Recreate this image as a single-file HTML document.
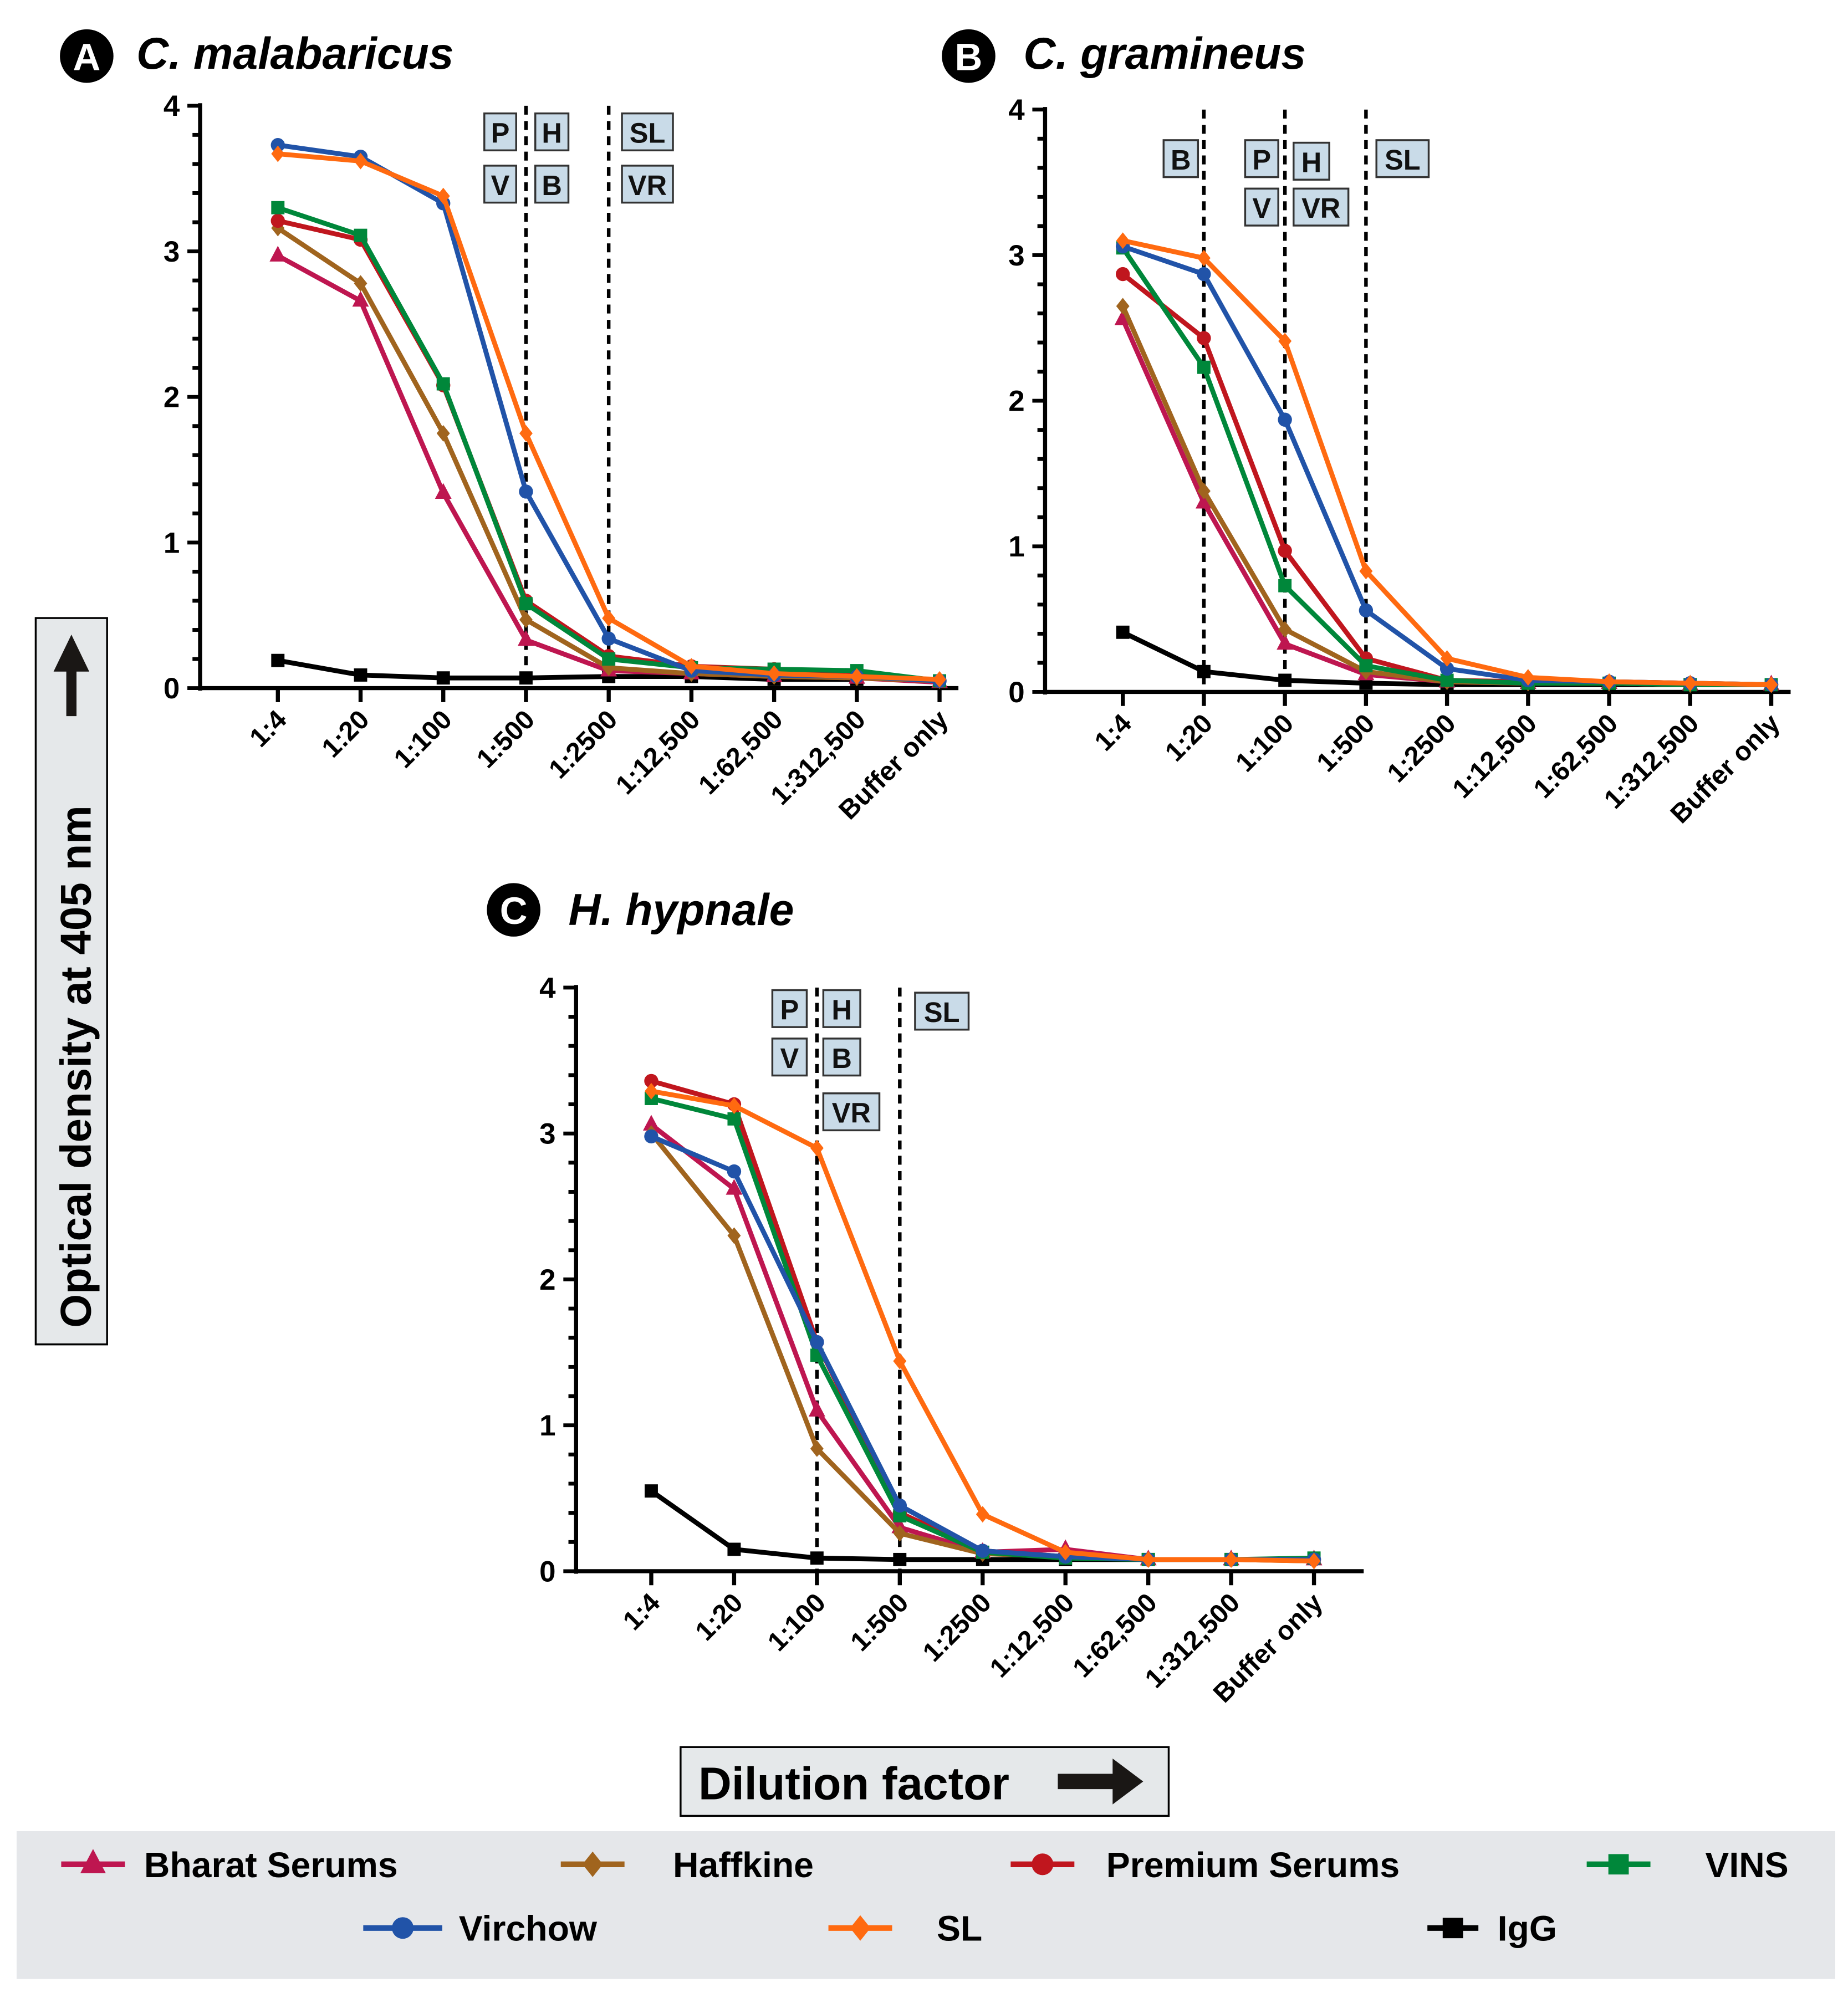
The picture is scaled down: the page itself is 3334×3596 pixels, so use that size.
<!DOCTYPE html>
<html><head><meta charset="utf-8"><style>
html,body{margin:0;padding:0;background:#fff}
svg{display:block}
text{font-family:"Liberation Sans",Arial,sans-serif;font-weight:bold}
</style></head><body>
<svg id="fig" width="3334" height="3596" viewBox="0 0 1450 1564" xmlns="http://www.w3.org/2000/svg">
<g id="static">
  <rect x="28" y="485" width="56" height="570" fill="#e5e8ea" stroke="#000" stroke-width="1.5"/>
  <text transform="translate(71,1042) rotate(-90)" font-size="34" fill="#000">Optical density at 405 nm</text>
  <path d="M56,498 L42,527 L52,527 L52,562 L60,562 L60,527 L70,527 Z" fill="#1a1715"/>
  <rect x="534" y="1371" width="383" height="54" fill="#e5e8ea" stroke="#000" stroke-width="1.5"/>
  <text x="548" y="1412" font-size="36" fill="#000">Dilution factor</text>
  <path d="M830,1392 L873,1392 L873,1380 L897,1398 L873,1416 L873,1404 L830,1404 Z" fill="#1a1715"/>
  <rect x="13" y="1437" width="1427" height="116" fill="#e5e7ea"/>
</g>
<g id="charts"></g>
<g id="legend"></g>
</svg>
<script>
const categories = ["1:4","1:20","1:100","1:500","1:2500","1:12,500","1:62,500","1:312,500","Buffer only"];
const seriesNames = ["Bharat Serums","Haffkine","Premium Serums","VINS","Virchow","SL","IgG"];
const yTicks = [0,1,2,3,4];
const aBharat = [2.97,2.66,1.34,0.33,0.12,0.10,0.08,0.07,0.04];
const aHaffkine = [3.16,2.78,1.75,0.47,0.14,0.10,0.08,0.07,0.05];
const aPremium = [3.21,3.08,2.08,0.60,0.22,0.15,0.13,0.10,0.05];
const aVins = [3.30,3.11,2.09,0.58,0.20,0.14,0.13,0.12,0.05];
const aVirchow = [3.73,3.65,3.33,1.35,0.34,0.12,0.09,0.08,0.05];
const aSL = [3.67,3.62,3.38,1.75,0.48,0.15,0.10,0.08,0.06];
const aIgG = [0.19,0.09,0.07,0.07,0.08,0.08,0.06,0.06];
const bBharat = [2.56,1.30,0.33,0.12,0.07,0.06,0.06,0.05,0.05];
const bHaffkine = [2.65,1.38,0.43,0.14,0.07,0.06,0.06,0.05,0.05];
const bPremium = [2.87,2.43,0.97,0.23,0.08,0.07,0.07,0.06,0.05];
const bVins = [3.05,2.23,0.73,0.18,0.08,0.06,0.06,0.05,0.05];
const bVirchow = [3.06,2.87,1.87,0.56,0.16,0.08,0.07,0.06,0.05];
const bSL = [3.10,2.98,2.41,0.83,0.23,0.10,0.07,0.06,0.05];
const bIgG = [0.41,0.14,0.08,0.06,0.05,0.05,0.05,0.05];
const cBharat = [3.06,2.62,1.10,0.30,0.13,0.15,0.08,0.08,0.08];
const cHaffkine = [3.00,2.30,0.84,0.26,0.12,0.10,0.08,0.08,0.07];
const cPremium = [3.36,3.20,1.57,0.40,0.14,0.10,0.08,0.08,0.08];
const cVins = [3.24,3.10,1.48,0.38,0.13,0.09,0.08,0.08,0.09];
const cVirchow = [2.98,2.74,1.57,0.45,0.14,0.10,0.08,0.08,0.08];
const cSL = [3.29,3.19,2.90,1.44,0.39,0.13,0.08,0.08,0.07];
const cIgG = [0.55,0.15,0.09,0.08,0.08,0.08,0.08,0.08];
const dashA = [3,4];
const dashB = [1,2,3];
const dashC = [2,3];

const colors = ["#be1650","#a0641e","#c0161e","#00873a","#2153a8","#ff6a10","#000"];
const markers = ["tri","dia","circ","sq","circ","dia","sq"];
const NS = "http://www.w3.org/2000/svg";
function mk(tag, attrs, parent){const e=document.createElementNS(NS,tag);for(const k in attrs)e.setAttribute(k,attrs[k]);parent.appendChild(e);return e;}
function marker(g,type,x,y,c,s){
  let e;
  if(type==="tri") e=mk("path",{d:`M${x},${y-s*1.2}L${x+s},${y+s*0.7}L${x-s},${y+s*0.7}Z`,fill:c},g);
  else if(type==="dia") e=mk("path",{d:`M${x},${y-s}L${x+s*0.8},${y}L${x},${y+s}L${x-s*0.8},${y}Z`,fill:c},g);
  else if(type==="circ") e=mk("circle",{cx:x,cy:y,r:s*0.85,fill:c},g);
  else e=mk("rect",{x:x-s*0.8,y:y-s*0.8,width:s*1.6,height:s*1.6,fill:c},g);
  return e;
}
const panels = [
 {id:"a",letter:"A",title:"C. malabaricus",cx:68,cy:44,tx:107,ty:54,ax:157,y0:540,y4:83,x0:218,dx:64.9,xend:752,
  data:[aBharat,aHaffkine,aPremium,aVins,aVirchow,aSL,aIgG],dash:dashA,
  boxes:[["P",380,89,25],["H",420,89,26],["V",380,130,25],["B",420,130,26],["SL",488,89,40],["VR",488,130,40]]},
 {id:"b",letter:"B",title:"C. gramineus",cx:760,cy:44,tx:803,ty:54,ax:820,y0:543,y4:86,x0:881,dx:63.6,xend:1405,
  data:[bBharat,bHaffkine,bPremium,bVins,bVirchow,bSL,bIgG],dash:dashB,
  boxes:[["B",913,110,27],["P",977,110,26],["H",1015,112,28],["V",977,148,26],["VR",1015,148,43],["SL",1080,110,41]]},
 {id:"c",letter:"C",title:"H. hypnale",cx:403,cy:714,tx:446,ty:726,ax:452,y0:1233,y4:775,x0:511,dx:65,xend:1070,
  data:[cBharat,cHaffkine,cPremium,cVins,cVirchow,cSL,cIgG],dash:dashC,
  boxes:[["P",606,777,27],["H",646,777,29],["V",606,815,27],["B",646,815,29],["VR",646,858,44],["SL",718,779,42]]}
];
const root=document.getElementById("charts");
panels.forEach(p=>{
  const g=mk("g",{},root);
  
  
  const X=i=>p.x0+i*p.dx;
  const Y=v=>p.y0-(p.y0-p.y4)*v/4;
  const c=mk("circle",{cx:p.cx,cy:p.cy,r:21,fill:"#000"},g);
  
  
  const lt=mk("text",{x:p.cx,y:p.cy+11,"text-anchor":"middle","font-size":30,fill:"#fff"},g);lt.textContent=p.letter;
  
  
  const tt=mk("text",{x:p.tx,y:p.ty,"font-size":35,"font-style":"italic",fill:"#000"},g);tt.textContent=p.title;
  
  
  const ya=mk("line",{x1:p.ax,y1:p.y4-2,x2:p.ax,y2:p.y0+2,stroke:"#000","stroke-width":3.2},g);
  
  
  const xa=mk("line",{x1:p.ax-1,y1:p.y0,x2:p.xend,y2:p.y0,stroke:"#000","stroke-width":3.2},g);
  
  
  for(let k=0;k<=20;k++){
    const v=k*0.2, major=(k%5===0);
    mk("line",{x1:p.ax-(major?10:6),y1:Y(v),x2:p.ax,y2:Y(v),stroke:"#000","stroke-width":3},g);
  }
  yTicks.forEach(t=>{
    const e=mk("text",{x:p.ax-16,y:Y(t)+8,"text-anchor":"end","font-size":23,fill:"#000"},g);e.textContent=t;
    
    
  });
  categories.forEach((cat,i)=>{
    mk("line",{x1:X(i),y1:p.y0,x2:X(i),y2:p.y0+11,stroke:"#000","stroke-width":3.2},g);
    const e=mk("text",{transform:`translate(${X(i)+8},${p.y0+26}) rotate(-45)`,"text-anchor":"end","font-size":21,fill:"#000"},g);
    e.textContent=cat;
    
    
  });
  p.dash.forEach(i=>{
    const d=mk("line",{x1:X(i),y1:p.y4,x2:X(i),y2:p.y0,stroke:"#000","stroke-width":2.8,"stroke-dasharray":"7,5"},g);
    
    
  });
  p.boxes.forEach(b=>{
    const r=mk("rect",{x:b[1],y:b[2],width:b[3],height:29,fill:"#c9dbe8",stroke:"#333","stroke-width":1.5},g);
    
    
    const t=mk("text",{x:b[1]+b[3]/2,y:b[2]+23,"text-anchor":"middle","font-size":22,fill:"#111"},g);t.textContent=b[0];
    
    
  });
  const order=[6,0,1,2,3,4,5];
  order.forEach(s=>{
    const vals=p.data[s];
    const sg=mk("g",{},g);
    
    
    const pts=vals.map((v,i)=>X(i)+","+Y(v)).join(" ");
    const pl=mk("polyline",{points:pts,fill:"none",stroke:colors[s],"stroke-width":3.8,"stroke-linejoin":"round"},sg);
    
    
    vals.forEach((v,i)=>{
      const m=marker(sg,markers[s],X(i),Y(v),colors[s],6.5);
      
      
    });
  });
});
const leg=document.getElementById("legend");
const legPos=[[48,1463,113],[440,1463,528],[793,1463,868],[1245,1463,1338],[285,1513,360],[650,1513,735],[1120,1513,1175]];
seriesNames.forEach((n,s)=>{
  const [lx,ly,tx]=legPos[s];
  const g=mk("g",{},leg);
  
  
  const w=(s===6)?40:(s===4?62:50);
  mk("line",{x1:lx,y1:ly,x2:lx+w,y2:ly,stroke:colors[s],"stroke-width":4.5},g);
  marker(g,markers[s],lx+w/2,ly,colors[s],10);
  const t=mk("text",{x:tx,y:ly+10,"font-size":28,fill:"#000"},g);t.textContent=n;
});
</script>
</body></html>
